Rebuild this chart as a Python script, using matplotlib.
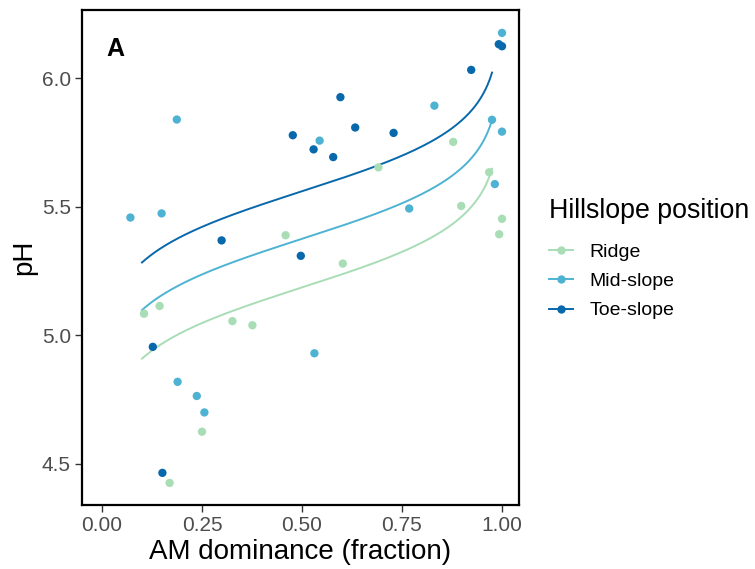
import numpy as np
import matplotlib
matplotlib.use("Agg")
import matplotlib.pyplot as plt
from matplotlib.lines import Line2D

plt.rcParams['font.family'] = ['Liberation Sans', 'DejaVu Sans']

# ---- data ----
positions = ["Ridge", "Mid-slope", "Toe-slope"]
colors = {"Ridge": "#a8ddb5", "Mid-slope": "#4eb3d3", "Toe-slope": "#0868ac"}

ridge_x = [0.105, 0.144, 0.326, 0.376, 0.250, 0.169, 0.459, 0.691, 0.878, 0.968, 0.898, 1.000, 0.993, 0.602]
ridge_y = [5.084, 5.114, 5.055, 5.039, 4.625, 4.426, 5.389, 5.653, 5.752, 5.634, 5.503, 5.453, 5.393, 5.279]

mid_x = [0.189, 0.237, 0.256, 0.187, 0.071, 0.149, 1.000, 0.831, 0.975, 1.000, 0.544, 0.982, 0.768, 0.531]
mid_y = [4.819, 4.764, 4.700, 5.839, 5.458, 5.474, 6.176, 5.893, 5.838, 5.792, 5.757, 5.588, 5.493, 4.930]

toe_x = [0.127, 0.151, 0.477, 0.299, 0.497, 0.992, 1.000, 0.923, 0.596, 0.633, 0.529, 0.578, 0.729]
toe_y = [4.955, 4.465, 5.778, 5.369, 5.309, 6.132, 6.124, 6.032, 5.926, 5.808, 5.723, 5.693, 5.787]

# fitted model: pH = intercept + slope * logit(AM), drawn over AM in [0.1, 0.975]
fit_intercepts = {"Ridge": 5.186, "Mid-slope": 5.375, "Toe-slope": 5.560}
fit_slope = 0.126
fit_range = (0.10, 0.975)

series = {"Ridge": (ridge_x, ridge_y), "Mid-slope": (mid_x, mid_y), "Toe-slope": (toe_x, toe_y)}

x_ticks = [0.00, 0.25, 0.50, 0.75, 1.00]
x_ticklabels = ["0.00", "0.25", "0.50", "0.75", "1.00"]
y_ticks = [4.5, 5.0, 5.5, 6.0]
y_ticklabels = ["4.5", "5.0", "5.5", "6.0"]

# ---- figure ----
fig = plt.figure(figsize=(7.55, 5.69), dpi=100)
ax = fig.add_axes([82/755, 1 - 505/569, (519-82)/755, (505-10)/569])

xs = np.linspace(fit_range[0], fit_range[1], 300)
for p in positions:
    yfit = fit_intercepts[p] + fit_slope * np.log(xs / (1 - xs))
    ax.plot(xs, yfit, color=colors[p], lw=1.4, zorder=2)
for p in positions:
    x, y = series[p]
    ax.scatter(x, y, s=36, color=colors[p], edgecolors='none', zorder=3)

ax.set_xlim(-0.05, 1.0425)
ax.set_ylim(4.34, 6.265)
ax.set_xticks(x_ticks)
ax.set_xticklabels(x_ticklabels)
ax.set_yticks(y_ticks)
ax.set_yticklabels(y_ticklabels)
ax.tick_params(axis='both', direction='out', length=5, width=1.0, color='#333333',
               labelsize=15, labelcolor='#4d4d4d', pad=3)
for s in ax.spines.values():
    s.set_linewidth(1.6)
    s.set_color('black')

ax.set_xlabel("AM dominance (fraction)", fontsize=20, labelpad=3)
ax.set_ylabel("pH", fontsize=20, labelpad=3)
ax.text(0.055, 0.922, "A", transform=ax.transAxes, fontsize=18, fontweight='bold',
        va='center', ha='left')

handles = [Line2D([0], [0], color=colors[p], lw=1.4, marker='o', markersize=6,
                  markeredgewidth=0) for p in positions]
leg = fig.legend(handles, positions, loc='upper left', bbox_to_anchor=(541/755, 1 - 190/569),
                 frameon=False, fontsize=14, title="Hillslope position", title_fontsize=19.3,
                 handlelength=1.25, handletextpad=0.85, labelspacing=0.6, borderaxespad=0,
                 alignment='left')
leg._legend_box.sep = 14

fig.savefig("out.png", dpi=100)
